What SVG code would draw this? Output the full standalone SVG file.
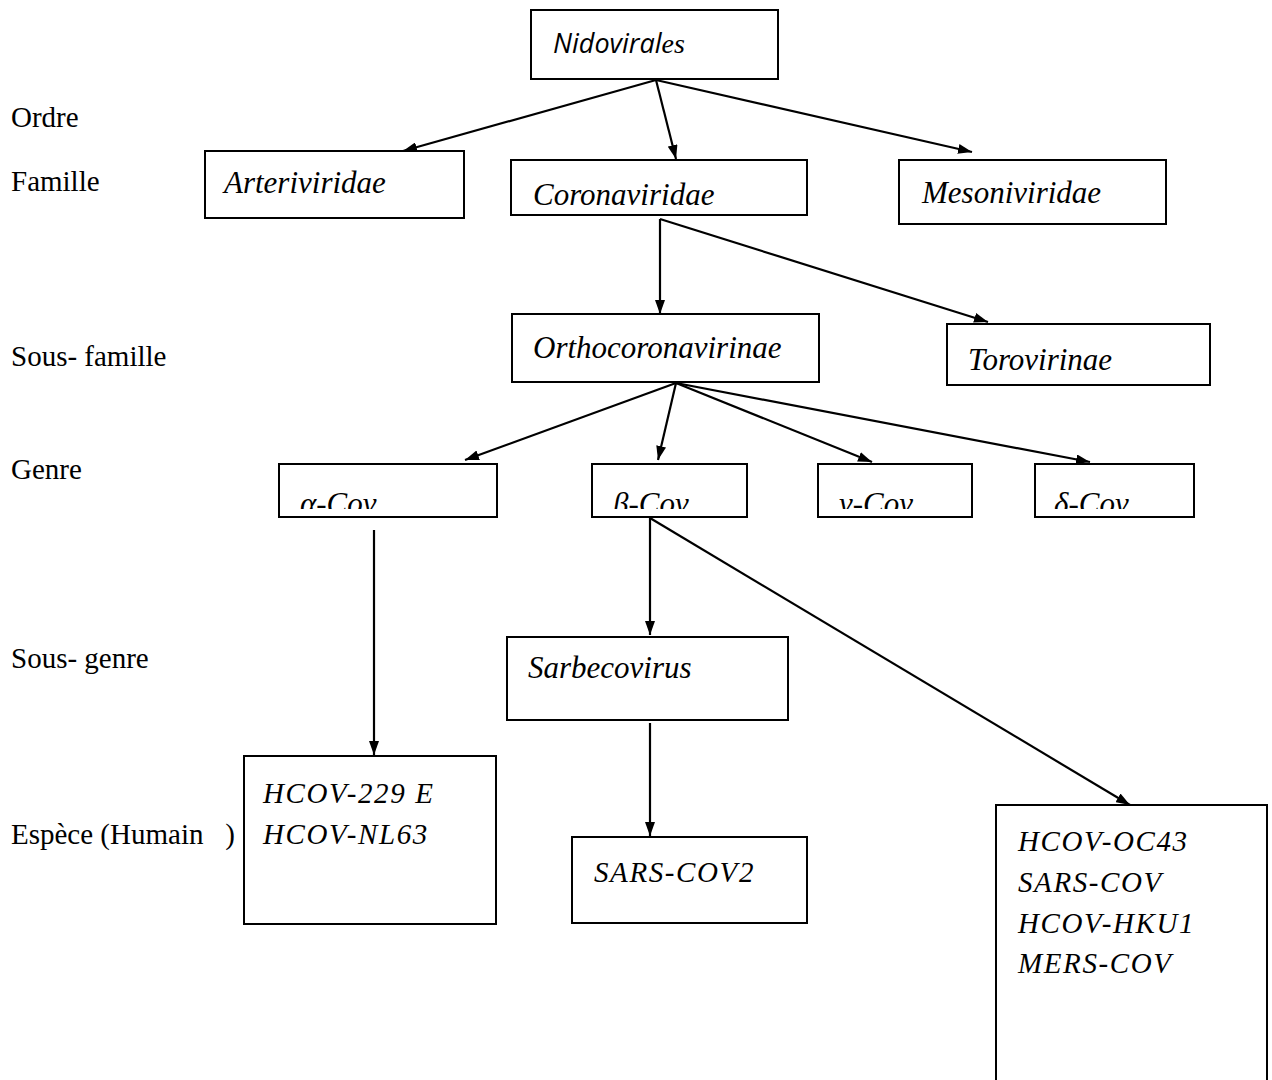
<svg xmlns="http://www.w3.org/2000/svg" width="1272" height="1080" viewBox="0 0 1272 1080">
<style>
.box{fill:#fff;stroke:#000;stroke-width:2}
.lbl{font-family:"Liberation Serif","Times New Roman",serif;font-size:29px;fill:#000}
.nt{font-family:"Liberation Serif","Times New Roman",serif;font-style:italic;font-size:31px;fill:#000}
.sp{font-family:"Liberation Serif","Times New Roman",serif;font-style:italic;font-size:29px;letter-spacing:1.6px;fill:#000}
.con line{stroke:#000;stroke-width:2.2;marker-end:url(#ah)}
</style>
<defs>
<marker id="ah" viewBox="0 0 14 10" refX="14" refY="5" markerWidth="14" markerHeight="10" markerUnits="userSpaceOnUse" orient="auto">
<path d="M0,0 L14,5 L0,10 z" fill="#000"/>
</marker>
<clipPath id="cutGenre" clipPathUnits="userSpaceOnUse"><rect x="0" y="0" width="1272" height="509"/></clipPath>
</defs>
<rect width="1272" height="1080" fill="#fff"/>

<g id="labels">
<text class="lbl" x="11" y="127">Ordre</text>
<text class="lbl" x="11" y="191">Famille</text>
<text class="lbl" x="11" y="366">Sous- famille</text>
<text class="lbl" x="11" y="479">Genre</text>
<text class="lbl" x="11" y="668">Sous- genre</text>
<text class="lbl" x="11" y="844" xml:space="preserve">Espèce (Humain   )</text>
</g>

<g class="con" id="connectors">
<line x1="656" y1="80" x2="403" y2="151"/>
<line x1="656" y1="80" x2="676" y2="159"/>
<line x1="656" y1="80" x2="972" y2="152"/>
<line x1="660" y1="219" x2="660" y2="314"/>
<line x1="660" y1="219" x2="988" y2="322"/>
<line x1="676" y1="383" x2="465" y2="460"/>
<line x1="676" y1="383" x2="658" y2="460"/>
<line x1="676" y1="383" x2="872" y2="462"/>
<line x1="676" y1="383" x2="1090" y2="462"/>
<line x1="374" y1="530" x2="374" y2="755"/>
<line x1="650" y1="518" x2="650" y2="635"/>
<line x1="650" y1="518" x2="1130" y2="805"/>
<line x1="650" y1="723" x2="650" y2="836"/>
</g>

<g id="nidovirales">
<rect class="box" x="531" y="10" width="247" height="69"/>
<text x="553" y="53" fill="#000"><tspan font-family="'Open Sans',sans-serif" font-style="italic" font-size="27">Nidoviral</tspan><tspan font-family="'Liberation Serif',serif" font-style="italic" font-size="28">es</tspan></text>
</g>

<g id="arteriviridae">
<rect class="box" x="205" y="151" width="259" height="67"/>
<text class="nt" x="224" y="193">Arteriviridae</text>
</g>

<g id="coronaviridae">
<rect class="box" x="511" y="160" width="296" height="55"/>
<text class="nt" x="533" y="205">Coronaviridae</text>
</g>

<g id="mesoniviridae">
<rect class="box" x="899" y="160" width="267" height="64"/>
<text class="nt" x="922" y="203">Mesoniviridae</text>
</g>

<g id="orthocoronavirinae">
<rect class="box" x="512" y="314" width="307" height="68"/>
<text class="nt" x="533" y="358">Orthocoronavirinae</text>
</g>

<g id="torovirinae">
<rect class="box" x="947" y="324" width="263" height="61"/>
<text class="nt" x="968" y="370">Torovirinae</text>
</g>

<g id="alpha-cov">
<rect class="box" x="279" y="464" width="218" height="53"/>
<text class="nt" x="300" y="514" clip-path="url(#cutGenre)">α-Cov</text>
</g>

<g id="beta-cov">
<rect class="box" x="592" y="464" width="155" height="53"/>
<text class="nt" x="613" y="514" clip-path="url(#cutGenre)">β-Cov</text>
</g>

<g id="nu-cov">
<rect class="box" x="818" y="464" width="154" height="53"/>
<text class="nt" x="839" y="514" clip-path="url(#cutGenre)">ν-Cov</text>
</g>

<g id="delta-cov">
<rect class="box" x="1035" y="464" width="159" height="53"/>
<text class="nt" x="1054" y="514" clip-path="url(#cutGenre)">δ-Cov</text>
</g>

<g id="sarbecovirus">
<rect class="box" x="507" y="637" width="281" height="83"/>
<text class="nt" x="528" y="678">Sarbecovirus</text>
</g>

<g id="alpha-species">
<rect class="box" x="244" y="756" width="252" height="168"/>
<text class="sp" x="263" y="803">HCOV-229 E</text>
<text class="sp" x="263" y="844">HCOV-NL63</text>
</g>

<g id="sars-cov2">
<rect class="box" x="572" y="837" width="235" height="86"/>
<text class="sp" x="594" y="882" letter-spacing="1.2">SARS-COV2</text>
</g>

<g id="beta-species">
<rect class="box" x="996" y="805" width="271" height="300"/>
<text class="sp" x="1018" y="851">HCOV-OC43</text>
<text class="sp" x="1018" y="892">SARS-COV</text>
<text class="sp" x="1018" y="933">HCOV-HKU1</text>
<text class="sp" x="1018" y="973">MERS-COV</text>
</g>
</svg>
